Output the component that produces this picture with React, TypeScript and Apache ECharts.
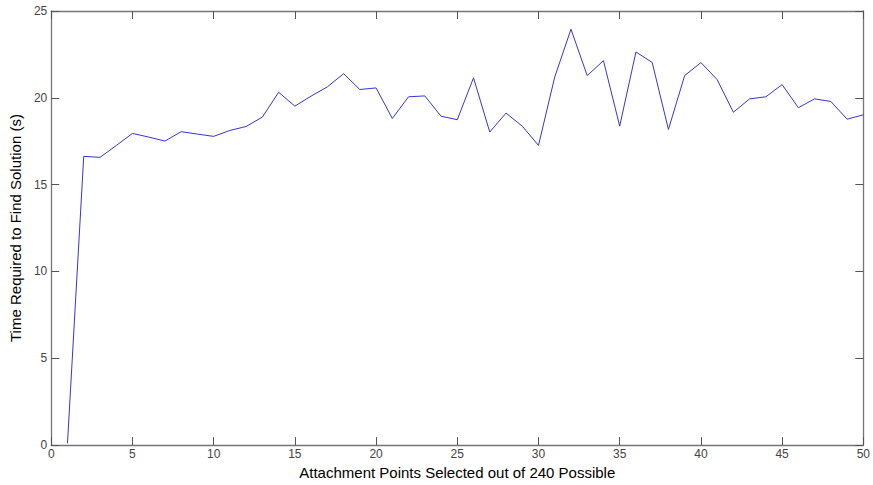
import React, { useEffect, useRef } from "react";
import * as echarts from "echarts";

// Number of attachment points selected (1..50)
const attachmentPoints: number[] = Array.from({ length: 50 }, (_, i) => i + 1);

// Time required to find a solution, in seconds
const solveTimes: number[] = [
  0.1, 16.63, 16.57, 17.25, 17.95, 17.74, 17.51, 18.05, 17.91, 17.78,
  18.12, 18.35, 18.89, 20.32, 19.52, 20.1, 20.63, 21.39, 20.48, 20.57,
  18.81, 20.06, 20.11, 18.94, 18.74, 21.15, 18.03, 19.12, 18.37, 17.26,
  21.2, 23.95, 21.28, 22.14, 18.37, 22.64, 22.04, 18.18, 21.28, 22.03,
  21.05, 19.17, 19.94, 20.06, 20.76, 19.43, 19.94, 19.79, 18.77, 19.02,
];

const xTicks = { min: 0, max: 50, interval: 5 };
const yTicks = { min: 0, max: 25, interval: 5 };

const xTitle = "Attachment Points Selected out of 240 Possible";
const yTitle = "Time Required to Find Solution (s)";

const FONT = "'Liberation Sans', Arial, sans-serif";
const AXIS_GREY = "#767676";
const LABEL_GREY = "#444444";

export default function App() {
  const ref = useRef<HTMLDivElement>(null);

  useEffect(() => {
    if (!ref.current) return;
    const chart = echarts.init(ref.current, undefined, { renderer: "svg" });

    // Shared style for the four sides of the plot box
    const frameAxis = {
      axisLine: { show: true, onZero: false, lineStyle: { color: AXIS_GREY, width: 1.3 } },
      axisTick: { show: true, inside: true, length: 8, lineStyle: { color: "#555", width: 1 } },
      splitLine: { show: false },
    };

    chart.setOption({
      animation: false,
      backgroundColor: "#ffffff",
      grid: { left: 46, top: 11, right: 1, bottom: 37, containLabel: false },
      xAxis: [
        {
          type: "value",
          position: "bottom",
          ...xTicks,
          ...frameAxis,
          axisLabel: {
            color: LABEL_GREY,
            fontFamily: FONT,
            fontSize: 12,
            margin: 3,
          },
          name: xTitle,
          nameLocation: "middle",
          nameGap: 15,
          nameTextStyle: { color: "#000", fontFamily: FONT, fontSize: 15 },
        },
        {
          type: "value",
          position: "top",
          ...xTicks,
          ...frameAxis,
          axisLabel: { show: false },
        },
      ],
      yAxis: [
        {
          type: "value",
          position: "left",
          ...yTicks,
          ...frameAxis,
          axisLabel: {
            color: LABEL_GREY,
            fontFamily: FONT,
            fontSize: 12,
            margin: 4,
          },
          name: yTitle,
          nameLocation: "middle",
          nameGap: 23,
          nameTextStyle: { color: "#000", fontFamily: FONT, fontSize: 15 },
        },
        {
          type: "value",
          position: "right",
          ...yTicks,
          ...frameAxis,
          axisLabel: { show: false },
        },
      ],
      series: [
        {
          type: "line",
          xAxisIndex: 0,
          yAxisIndex: 0,
          data: attachmentPoints.map((x, i) => [x, solveTimes[i]]),
          showSymbol: false,
          symbol: "none",
          lineStyle: { color: "#3636d0", width: 1 },
          silent: true,
        },
      ],
    });

    return () => chart.dispose();
  }, []);

  return (
    <div
      ref={ref}
      style={{ position: "absolute", left: 0, top: 0, width: 873, height: 485 }}
    />
  );
}
